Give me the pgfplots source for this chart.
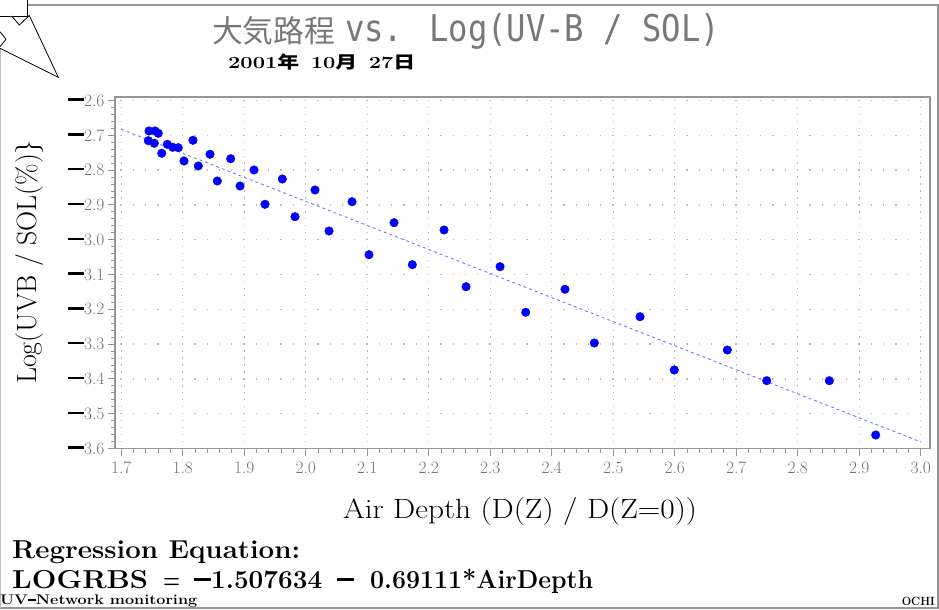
\documentclass[border=0pt]{standalone}
\usepackage{fontspec}
\usepackage{graphicx}
\usepackage{pgfplots}
\pgfplotsset{compat=1.18}
\newfontfamily\cjk{Noto Sans CJK JP}
\newfontfamily\tmono{DejaVu Sans Mono}
\definecolor{ptblue}{RGB}{0,0,255}
\definecolor{regblue}{RGB}{120,120,255}
\definecolor{framegray}{RGB}{150,150,150}
\definecolor{ticklab}{RGB}{115,115,115}
\definecolor{titlegray}{RGB}{120,120,120}
\definecolor{gridgray}{RGB}{185,185,185}
\newcommand{\bmin}{\textcolor{black}{\rule[0.3em]{0.9em}{0.14em}}\hspace{0.03em}}
\newcommand{\bigmin}{\rule[0.28em]{0.65em}{0.12em}}
\pgfplotstableread{
x y
1.7452 -2.6876
1.7550 -2.6876
1.7603 -2.6943
1.7441 -2.7155
1.7538 -2.7230
1.7659 -2.7517
1.7750 -2.7259
1.7837 -2.7345
1.7928 -2.7356
1.8167 -2.7144
1.8021 -2.7739
1.8254 -2.7882
1.8444 -2.7546
1.8563 -2.8313
1.8780 -2.7672
1.8932 -2.8457
1.9159 -2.7997
1.9338 -2.8983
1.9620 -2.8256
1.9826 -2.9339
2.0151 -2.8572
2.0379 -2.9750
2.0753 -2.8908
2.1029 -3.0431
2.1436 -2.9511
2.1733 -3.0718
2.2249 -2.9721
2.2607 -3.1351
2.3160 -3.0776
2.3577 -3.2086
2.4216 -3.1425
2.4693 -3.2968
2.5436 -3.2213
2.5993 -3.3744
2.6855 -3.3170
2.7496 -3.4052
2.8514 -3.4052
2.9268 -3.5612
}\obsdata
\begin{document}
\begin{tikzpicture}
\useasboundingbox (0,0) rectangle (939bp,-610bp);
% outer frame
\draw[framegray, line width=1.6bp] (27bp,-5bp) -- (938bp,-5bp) -- (938bp,-608bp) -- (0,-608bp);
\draw[gray!50, line width=0.6bp] (0.4bp,-48bp) -- (0.4bp,-608bp);
% callout decoration
\draw[black, line width=0.8bp] (0,-16bp) -- (27bp,-16bp) -- (27bp,0);
\draw[black, line width=0.8bp] (11.7bp,-16bp) -- (19.3bp,-25bp) -- (29.3bp,-15.5bp) -- (58.3bp,-77.3bp) -- (0,-48.3bp);
\draw[black, line width=0.8bp] (0,-31.7bp) -- (6bp,-39.3bp) -- (0,-46.7bp);
% titles
\node[anchor=west, text=titlegray, inner sep=0pt] at (212bp,-31bp)
  {\resizebox{123bp}{\height}{\fontsize{31}{31}\selectfont\cjk 大気路程}};
\node[anchor=west, text=titlegray, inner sep=0pt] at (345bp,-31bp)
  {\resizebox{375bp}{\height}{\fontsize{37}{37}\selectfont\tmono vs. Log(UV-B / SOL)}};
\node[anchor=west, inner sep=0pt] at (228bp,-62bp)
  {\resizebox{187bp}{\height}{\fontsize{17}{17}\selectfont\bfseries 2001{\cjk 年}\hspace{9bp}10{\cjk 月}\hspace{9bp}27{\cjk 日}}};
\begin{axis}[
  at={(115bp,-448.5bp)}, anchor=south west,
  scale only axis, width=815bp, height=351.5bp,
  xmin=1.6899, xmax=3.0151, ymin=-3.6, ymax=-2.5900,
  xtick={1.7,1.8,1.9,2.0,2.1,2.2,2.3,2.4,2.5,2.6,2.7,2.8,2.9,3.0},
  xticklabels={1.7,1.8,1.9,2.0,2.1,2.2,2.3,2.4,2.5,2.6,2.7,2.8,2.9,3.0},
  ytick={-3.6,-3.5,-3.4,-3.3,-3.2,-3.1,-3.0,-2.9,-2.8,-2.7,-2.6},
  yticklabels={\bmin3.6,\bmin3.5,\bmin3.4,\bmin3.3,\bmin3.2,\bmin3.1,\bmin3.0,\bmin2.9,\bmin2.8,\bmin2.7,\bmin2.6},
  minor x tick num=4, minor y tick num=4,
  tick pos=left, tick align=outside,
  major tick length=7bp, minor tick length=4bp,
  every tick/.style={framegray, line width=0.9bp},
  axis line style={framegray, line width=1.6bp},
  xmajorgrids, ymajorgrids,
  x grid style={gridgray, line width=1.3bp, dash pattern=on 1.3bp off 5.66bp, dash phase=0.65bp},
  y grid style={gridgray, line width=1.3bp, dash pattern=on 1.3bp off 11.0bp, dash phase=6.9bp},
  ticklabel style={text=ticklab, font=\fontsize{17.5}{17.5}\selectfont},
  xticklabel style={yshift=-3bp},
  xlabel={\resizebox{354bp}{\height}{Air Depth (D(Z) / D(Z=0))}},
  ylabel={Log(UVB / SOL(\%)\}},
  xlabel style={at={(axis description cs:0.497,-0.1807)}, anchor=center, font=\fontsize{28}{28}\selectfont},
  ylabel style={at={(axis description cs:-0.1043,0.5306)}, anchor=center, font=\fontsize{28}{28}\selectfont},
  clip=false,
]
\addplot[regblue, line width=0.9bp, dash pattern=on 3bp off 3bp] coordinates {(1.7,-2.682521) (3.0,-3.580964)};
\addplot[only marks, mark=*, mark size=4.3bp, mark options={draw=ptblue, fill=ptblue}] table[x=x, y=y] {\obsdata};
\end{axis}
% regression text
\node[anchor=west, inner sep=0pt] at (12bp,-552bp) {\resizebox{288bp}{\height}{\fontsize{26}{26}\selectfont\bfseries Regression Equation:}};
\node[anchor=base west, inner sep=0pt] at (12bp,-588bp) {\resizebox{136bp}{\height}{\fontsize{26}{26}\selectfont\bfseries LOGRBS}};
\node[anchor=base west, inner sep=0pt] at (163bp,-588bp) {\resizebox{17bp}{\height}{\fontsize{26}{26}\selectfont\bfseries =}};
\node[anchor=base west, inner sep=0pt] at (194bp,-588bp) {\resizebox{128bp}{\height}{\fontsize{26}{26}\selectfont\bfseries\bigmin1.507634}};
\node[anchor=base west, inner sep=0pt] at (337bp,-588bp) {\fontsize{26}{26}\selectfont\bfseries\bigmin};
\node[anchor=base west, inner sep=0pt] at (370bp,-588bp) {\resizebox{223bp}{\height}{\fontsize{26}{26}\selectfont\bfseries 0.69111*AirDepth}};
\node[anchor=west, inner sep=0pt] at (0bp,-601bp) {\resizebox{197bp}{\height}{\fontsize{14}{14}\selectfont\bfseries UV\rule[0.28em]{0.5em}{0.1em}Network monitoring}};
\node[anchor=east, inner sep=0pt] at (935bp,-601bp) {\resizebox{33bp}{\height}{\fontsize{12}{12}\selectfont\bfseries OCHI}};
\end{tikzpicture}
\end{document}
